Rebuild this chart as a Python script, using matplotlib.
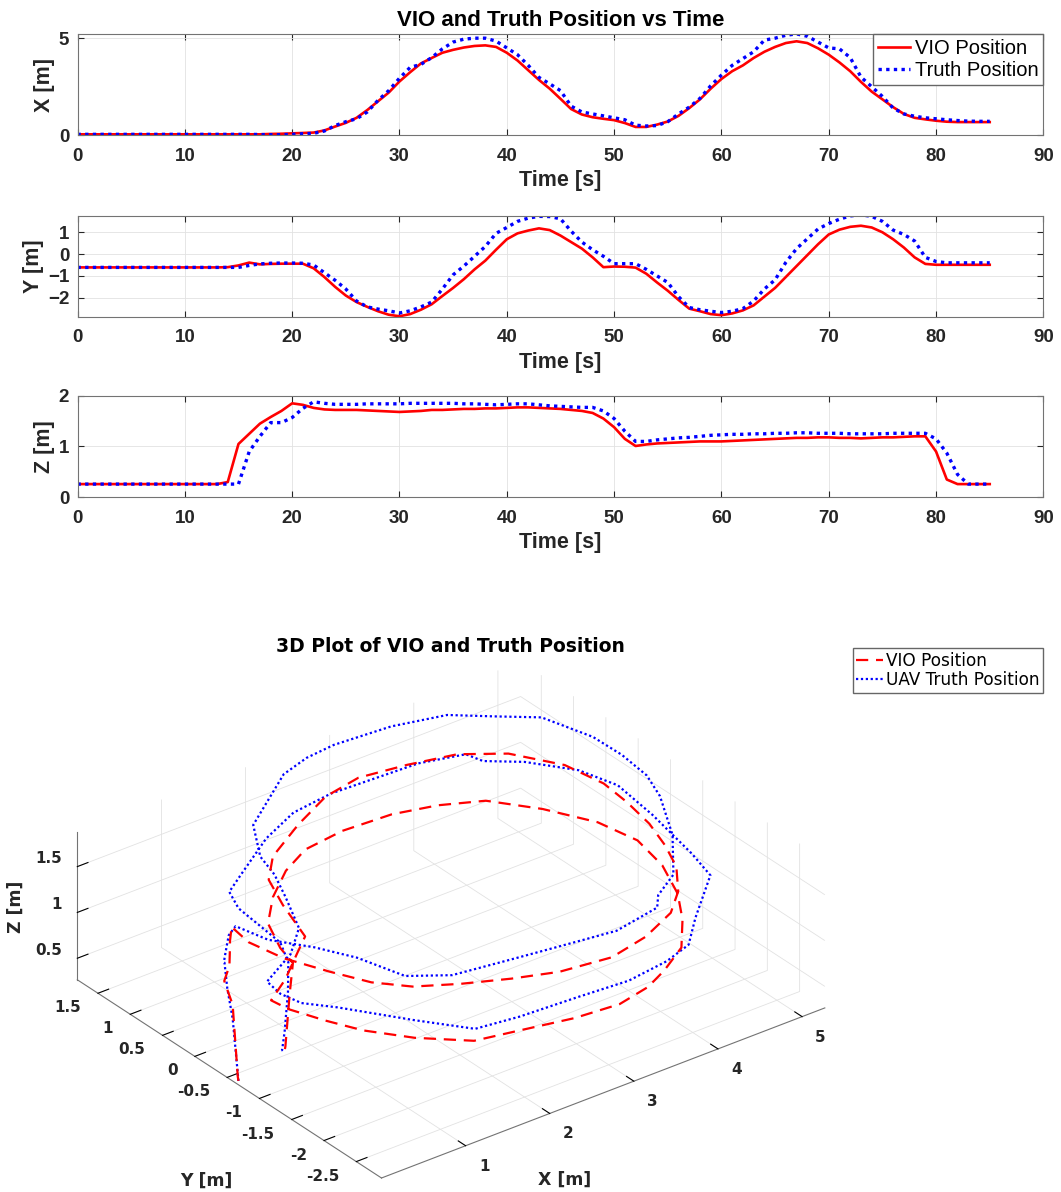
import numpy as np
import matplotlib
matplotlib.use("Agg")
import matplotlib.pyplot as plt
from mpl_toolkits.mplot3d import proj3d

# ----------------------------------------------------------------- dati
# campioni, stessa base dei tempi per X, Y, Z
time_s = [0, 5, 10, 13,
          14, 15, 16, 17, 18, 19,
          20, 21, 22, 23, 24, 25, 26, 27, 28, 29,
          30, 31, 32, 33, 34, 35, 36, 37, 38, 39,
          40, 41, 42, 43, 44, 45, 46, 47, 48, 49,
          50, 51, 52, 53, 54, 55, 56, 57, 58, 59,
          60, 61, 62, 63, 64, 65, 66, 67, 68, 69,
          70, 71, 72, 73, 74, 75, 76, 77, 78, 79,
          80, 81, 82, 83, 84, 85]

vio_x = [0.05, 0.05, 0.05, 0.05,
         0.05, 0.05, 0.05, 0.05, 0.07, 0.08,
         0.10, 0.12, 0.14, 0.25, 0.45, 0.64, 0.90, 1.30, 1.75, 2.20,
         2.77, 3.25, 3.70, 3.98, 4.25, 4.40, 4.52, 4.60, 4.63, 4.55,
         4.25, 3.85, 3.35, 2.85, 2.40, 1.88, 1.35, 1.07, 0.93, 0.85,
         0.78, 0.63, 0.43, 0.43, 0.55, 0.71, 1.00, 1.40, 1.85, 2.40,
         2.90, 3.30, 3.60, 3.98, 4.30, 4.55, 4.75, 4.84, 4.75, 4.48,
         4.15, 3.75, 3.30, 2.75, 2.25, 1.85, 1.45, 1.10, 0.90, 0.82,
         0.75, 0.70, 0.68, 0.68, 0.68, 0.68]
truth_x = [0.05, 0.05, 0.05, 0.05,
           0.05, 0.05, 0.05, 0.04, 0.03, 0.03,
           0.05, 0.08, 0.10, 0.22, 0.50, 0.70, 0.85, 1.20, 1.80, 2.30,
           2.94, 3.50, 3.65, 4.00, 4.45, 4.80, 4.95, 5.00, 5.00, 4.85,
           4.50, 4.15, 3.60, 2.98, 2.65, 2.30, 1.50, 1.20, 1.10, 1.00,
           0.90, 0.80, 0.52, 0.48, 0.50, 0.70, 1.10, 1.45, 1.90, 2.55,
           3.10, 3.60, 3.95, 4.30, 4.90, 5.00, 5.15, 5.22, 5.10, 4.80,
           4.50, 4.45, 4.00, 3.00, 2.50, 2.00, 1.40, 1.10, 0.98, 0.90,
           0.85, 0.80, 0.76, 0.73, 0.72, 0.72]

vio_y = [-0.61, -0.61, -0.61, -0.61,
         -0.60, -0.52, -0.39, -0.47, -0.45, -0.44,
         -0.44, -0.44, -0.65, -1.05, -1.50, -1.90, -2.20, -2.42, -2.62, -2.78,
         -2.85, -2.75, -2.55, -2.30, -1.92, -1.55, -1.15, -0.70, -0.30, 0.20,
         0.68, 0.95, 1.08, 1.18, 1.10, 0.85, 0.55, 0.25, -0.15, -0.60,
         -0.57, -0.58, -0.62, -0.90, -1.30, -1.68, -2.10, -2.50, -2.62, -2.75,
         -2.80, -2.72, -2.58, -2.35, -1.95, -1.55, -1.05, -0.55, -0.05, 0.45,
         0.90, 1.12, 1.25, 1.30, 1.22, 1.00, 0.68, 0.30, -0.15, -0.45,
         -0.49, -0.49, -0.49, -0.49, -0.49, -0.49]
truth_y = [-0.61, -0.61, -0.61, -0.61,
           -0.61, -0.61, -0.52, -0.45, -0.42, -0.41,
           -0.41, -0.42, -0.50, -0.85, -1.20, -1.60, -2.15, -2.42, -2.52, -2.60,
           -2.70, -2.60, -2.42, -2.20, -1.60, -0.95, -0.55, -0.10, 0.35, 0.95,
           1.22, 1.50, 1.65, 1.73, 1.72, 1.62, 1.05, 0.55, 0.20, -0.10,
           -0.44, -0.44, -0.44, -0.70, -1.00, -1.30, -1.95, -2.45, -2.55, -2.62,
           -2.68, -2.62, -2.50, -2.15, -1.60, -1.18, -0.38, 0.25, 0.70, 1.15,
           1.40, 1.60, 1.75, 1.80, 1.73, 1.50, 1.10, 0.90, 0.60, -0.15,
           -0.34, -0.40, -0.40, -0.40, -0.40, -0.40]

vio_z = [0.26, 0.26, 0.26, 0.26,
         0.30, 1.05, 1.25, 1.45, 1.58, 1.70,
         1.85, 1.82, 1.76, 1.73, 1.72, 1.72, 1.72, 1.71, 1.70, 1.69,
         1.68, 1.69, 1.70, 1.72, 1.72, 1.73, 1.74, 1.74, 1.75, 1.75,
         1.76, 1.77, 1.77, 1.76, 1.75, 1.74, 1.72, 1.70, 1.66, 1.55,
         1.38, 1.15, 1.01, 1.04, 1.06, 1.07, 1.08, 1.09, 1.10, 1.10,
         1.10, 1.11, 1.12, 1.13, 1.14, 1.15, 1.16, 1.17, 1.17, 1.18,
         1.18, 1.17, 1.17, 1.16, 1.17, 1.18, 1.18, 1.19, 1.20, 1.20,
         0.90, 0.35, 0.26, 0.26, 0.26, 0.26]
truth_z = [0.26, 0.26, 0.26, 0.26,
           0.26, 0.26, 0.90, 1.20, 1.47, 1.47,
           1.57, 1.75, 1.88, 1.85, 1.83, 1.83, 1.83, 1.84, 1.84, 1.84,
           1.84, 1.85, 1.85, 1.85, 1.85, 1.85, 1.84, 1.84, 1.83, 1.82,
           1.83, 1.84, 1.84, 1.82, 1.80, 1.79, 1.78, 1.77, 1.77, 1.70,
           1.55, 1.30, 1.10, 1.10, 1.13, 1.15, 1.17, 1.18, 1.20, 1.22,
           1.23, 1.24, 1.24, 1.25, 1.25, 1.26, 1.26, 1.27, 1.27, 1.26,
           1.26, 1.26, 1.25, 1.25, 1.25, 1.25, 1.26, 1.26, 1.26, 1.26,
           1.15, 0.87, 0.45, 0.26, 0.26, 0.26]

time_ticks = [0, 10, 20, 30, 40, 50, 60, 70, 80, 90]
panels = [  # (ylabel, vio, truth, yticks, ylim)
    ("X [m]", vio_x, truth_x, [0, 5], (0, 5.2)),
    ("Y [m]", vio_y, truth_y, [-2, -1, 0, 1], (-2.87, 1.76)),
    ("Z [m]", vio_z, truth_z, [0, 1, 2], (0, 2)),
]

xticks_3d = [1, 2, 3, 4, 5]
yticks_3d = [-2.5, -2, -1.5, -1, -0.5, 0, 0.5, 1, 1.5]
zticks_3d = [0.5, 1, 1.5]
lims_3d = [(0.0, 5.27), (-2.89, 1.82), (0.265, 1.88)]

RED = (1.0, 0.0, 0.0)
BLUE = (0.0, 0.0, 1.0)
INK = "#262626"
GRID = "#e2e2e2"

W, H = 1061, 1192
plt.rcParams["font.family"] = ["Liberation Sans", "DejaVu Sans"]
plt.rcParams["font.weight"] = "bold"
plt.rcParams["grid.color"] = GRID
plt.rcParams["grid.linewidth"] = 0.6

fig = plt.figure(figsize=(W / 100, H / 100), dpi=100)

# ------------------------------------------------------------ 3 pannelli
tops = [34.3, 215.7, 395.7]
bots = [135.3, 316.7, 497.3]
left, right = 77.5, 1043.4

for i, (ylab, vio, truth, yt, yl) in enumerate(panels):
    ax = fig.add_axes([left / W, 1 - bots[i] / H,
                       (right - left) / W, (bots[i] - tops[i]) / H])
    ax.plot(time_s, vio, color=RED, lw=1.9, label="VIO Position")
    ax.plot(time_s, truth, color=BLUE, lw=2.4, ls=(0, (1, 1.3)),
            label="Truth Position")
    ax.set_xlim(0, 90)
    ax.set_ylim(*yl)
    ax.set_xticks(time_ticks)
    ax.set_yticks(yt)
    ax.grid(True, color=GRID, lw=0.6)
    ax.tick_params(direction="in", length=4, top=True, right=True,
                   labelsize=13.5, colors=INK, pad=9)
    ax.tick_params(axis="y", pad=6)
    for s in ax.spines.values():
        s.set_color("0.45")
        s.set_linewidth(0.8)
    ax.set_xlabel("Time [s]", fontsize=15.5, fontweight="bold", color=INK,
                  labelpad=4)
    ax.set_ylabel(ylab, fontsize=15.5, fontweight="bold", color=INK,
                  labelpad=3)
    if i == 0:
        ax.set_title("VIO and Truth Position vs Time", fontsize=16,
                     fontweight="bold", color="black", pad=6)
        ax.legend(loc="upper right", borderaxespad=0, fancybox=False,
                  edgecolor="0.4", framealpha=1, handlelength=1.55,
                  handletextpad=0.25, labelspacing=0.15, borderpad=0.25,
                  prop={"family": "Liberation Sans", "weight": "normal",
                        "size": 14.5})

# ------------------------------------------------------------------- 3D
cx, cy, side = 451.0, H - 920.2, 700.0
ax3 = fig.add_axes([(cx - side / 2) / W, (cy - side / 2) / H, side / W, side / H],
                   projection="3d", proj_type="ortho")
ax3.view_init(elev=30, azim=-127.5)          # vista di default MATLAB
ax3.set_box_aspect((558.8, 499.7, 170.9))
ax3.set_facecolor((1, 1, 1, 0))

h1, = ax3.plot(truth_x, truth_y, truth_z, color=BLUE, lw=1.6,
               ls=(0, (1, 1.2)), label="UAV Truth Position")
h0, = ax3.plot(vio_x, vio_y, vio_z, color=RED, lw=1.6,
               ls=(0, (5.5, 3.5)), label="VIO Position")

ax3.set_xlim(*lims_3d[0])
ax3.set_ylim(*lims_3d[1])
ax3.set_zlim(*lims_3d[2])
ax3.set_xticks(xticks_3d)
ax3.set_yticks(yticks_3d)
ax3.set_zticks(zticks_3d)
ax3.set_xticklabels([])
ax3.set_yticklabels([])
ax3.set_zticklabels([])
for axis in (ax3.xaxis, ax3.yaxis, ax3.zaxis):
    axis.set_pane_color((1, 1, 1, 0))
    axis.pane.set_edgecolor(GRID)
    axis.line.set_color("0.45")
    axis.line.set_linewidth(0.8)
    axis._axinfo["grid"]["color"] = GRID
    axis._axinfo["grid"]["linewidth"] = 0.6
    axis._axinfo["tick"]["inward_factor"] = 0.0
    axis._axinfo["tick"]["outward_factor"] = 0.3
    axis._axinfo["tick"]["color"] = "0.45"

# sistemo posizione e scala della scatola proiettata sui punti misurati
fig.canvas.draw()


def screen(x, y, z):
    xs, ys, _ = proj3d.proj_transform(x, y, z, ax3.get_proj())
    return np.array(ax3.transData.transform((xs, ys)))


(x0, x1), (y0, y1), (z0, z1) = lims_3d
p_front = screen(x0, y0, z0)
p_xend = screen(x1, y0, z0)
p_yend = screen(x0, y1, z0)
k = (824.8 - 77.3) / (p_xend[0] - p_yend[0])
c_ax = np.array([cx, cy])
target = np.array([381.5, H - 1178.0])
c_new = target - k * (p_front - c_ax)
side *= k
ax3.set_position([(c_new[0] - side / 2) / W, (c_new[1] - side / 2) / H,
                  side / W, side / H])
fig.canvas.draw()

# etichette dei tick alla maniera MATLAB
tick3d = dict(family="DejaVu Sans", weight="bold", fontsize=11, color=INK)
for v in xticks_3d:
    p = screen(v, y0, z0)
    fig.text((p[0] + 18.5) / W, (p[1] - 20.5) / H, f"{v:g}",
             ha="center", va="center", **tick3d)
for v in yticks_3d:
    p = screen(x0, v, z0)
    fig.text((p[0] - 17) / W, (p[1] - 14.5) / H, f"{v:g}",
             ha="right", va="center", **tick3d)
for v in zticks_3d:
    p = screen(x0, y1, v)
    fig.text((p[0] - 15.6) / W, (p[1] + 8) / H, f"{v:g}",
             ha="right", va="center", **tick3d)

lab3d = dict(family="DejaVu Sans", weight="bold", fontsize=12.5, color=INK)
fig.text(565 / W, 1 - 1180 / H, "X [m]", ha="center", va="center", **lab3d)
fig.text(206 / W, 1 - 1181 / H, "Y [m]", ha="center", va="center", **lab3d)
fig.text(16 / W, 1 - 907 / H, "Z [m]", ha="center", va="center",
         rotation=90, **lab3d)
fig.text(450 / W, 1 - 646 / H, "3D Plot of VIO and Truth Position",
         ha="center", va="center", family="DejaVu Sans", weight="bold",
         fontsize=13.5, color="black")

fig.legend([h0, h1], ["VIO Position", "UAV Truth Position"],
           loc="upper right", bbox_to_anchor=(1043 / W, 1 - 648.3 / H),
           bbox_transform=fig.transFigure, borderaxespad=0, fancybox=False,
           edgecolor="0.4", framealpha=1, handlelength=1.55,
           handletextpad=0.2, labelspacing=0.1, borderpad=0.2,
           prop={"family": "DejaVu Sans", "weight": "normal", "size": 12.2})

fig.savefig("out.png", dpi=100)
